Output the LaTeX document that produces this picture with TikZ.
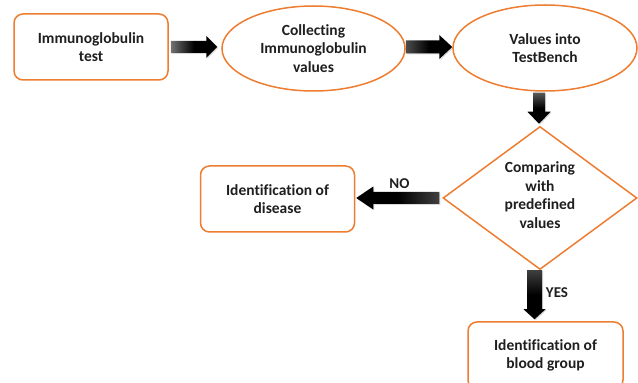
\documentclass[tikz,border=0pt]{standalone}
\usepackage{fontspec}
\setmainfont[Ligatures=NoCommon]{Carlito}
\usetikzlibrary{shapes.geometric,calc,shadows}
\definecolor{orng}{HTML}{ED7D31}
\begin{document}
\begin{tikzpicture}[x=1pt,y=1pt,
 txt/.style={font=\fontsize{15.5}{18.5}\selectfont\bfseries, text=black!88, align=center},
 rbox/.style={txt, draw=orng, line width=1.5pt, rounded corners=9pt, fill=white, minimum width=154pt, minimum height=66pt, inner sep=0pt},
 ell/.style={txt, ellipse, draw=orng, line width=1.5pt, fill=white, minimum width=183pt, minimum height=85pt, inner sep=0pt},
 dia/.style={txt, diamond, draw=orng, line width=1.5pt, fill=white, minimum width=194pt, minimum height=143pt, inner sep=0pt},
 fat/.style={middle color=black, drop shadow={shadow xshift=1pt, shadow yshift=-1pt, opacity=0.3}},
 lbl/.style={font=\fontsize{15}{17}\selectfont\bfseries, text=black!88}
]
\useasboundingbox (0,0) rectangle (638,383);
\node[rbox] (b1) at (91,336) {Immunoglobulin\\test};
\node[ell] (e1) at (313.5,334.5) {Collecting\\Immunoglobulin\\values};
\node[ell, minimum width=184pt, minimum height=86pt] (e2) at (545,335) {Values into\\TestBench};
\node[dia] (d) at (540,185) {\raisebox{-5pt}{\smash{\begin{tabular}{@{}c@{}}Comparing\\with\\predefined\\values\end{tabular}}}};
\node[rbox] (b2) at (277.5,184) {Identification of\\disease};
\node[rbox, minimum width=155pt, minimum height=67pt] (b3) at (545.5,27.5) {Identification of\\blood group};

% arrow 1
\shade[left color=black!55, right color=black, fat]
  let \p1=($(b1.east)+(2,0)$), \p2=($(e1.west)+(-4,0)$) in
  (\x1,\y1-6pt) -- (\x2-11pt,\y1-6pt) -- (\x2-11pt,\y1-11pt) -- (\x2,\y1) --
  (\x2-11pt,\y1+11pt) -- (\x2-11pt,\y1+6pt) -- (\x1,\y1+6pt) -- cycle;
% arrow 2
\shade[left color=black!70, right color=black, fat]
  let \p1=($(e1.east)+(0,1.5)$), \p2=($(e2.west)+(0,0)$) in
  (\x1,\y1-6.5pt) -- (\x2-13pt,\y1-6.5pt) -- (\x2-13pt,\y1-12pt) -- (\x2,\y1) --
  (\x2-13pt,\y1+12pt) -- (\x2-13pt,\y1+6.5pt) -- (\x1,\y1+6.5pt) -- cycle;
% arrow 3
\shade[top color=black!65, bottom color=black, fat]
  let \p1=($(e2.south)+(0,-1)$), \p2=($(d.north)+(-1,2)$) in
  (\x2-6pt,\y1) -- (\x2-6pt,\y2+12pt) -- (\x2-11.5pt,\y2+12pt) -- (\x2,\y2) --
  (\x2+11.5pt,\y2+12pt) -- (\x2+6pt,\y2+12pt) -- (\x2+6pt,\y1) -- cycle;
% arrow 4 (NO)
\shade[right color=black!75, left color=black, fat]
  let \p1=($(d.west)+(-3,0)$), \p2=($(b2.east)+(1,0)$) in
  (\x1,\y1-6pt) -- (\x2+17pt,\y1-6pt) -- (\x2+17pt,\y1-11.5pt) -- (\x2,\y1) --
  (\x2+17pt,\y1+11.5pt) -- (\x2+17pt,\y1+6pt) -- (\x1,\y1+6pt) -- cycle;
% arrow 5 (YES)
\shade[top color=black!75, bottom color=black, fat]
  let \p1=($(d.south)+(0,0)$), \p2=($(b3.north)+(-11,2)$) in
  (\x2-7.5pt,\y1) -- (\x2-7.5pt,\y2+10pt) -- (\x2-11pt,\y2+10pt) -- (\x2,\y2) --
  (\x2+11pt,\y2+10pt) -- (\x2+7.5pt,\y2+10pt) -- (\x2+7.5pt,\y1) -- cycle;

\node[lbl] (no) at (399.5,199) {NO};
\node[lbl] (yes) at (557,90) {YES};
\end{tikzpicture}
\end{document}
